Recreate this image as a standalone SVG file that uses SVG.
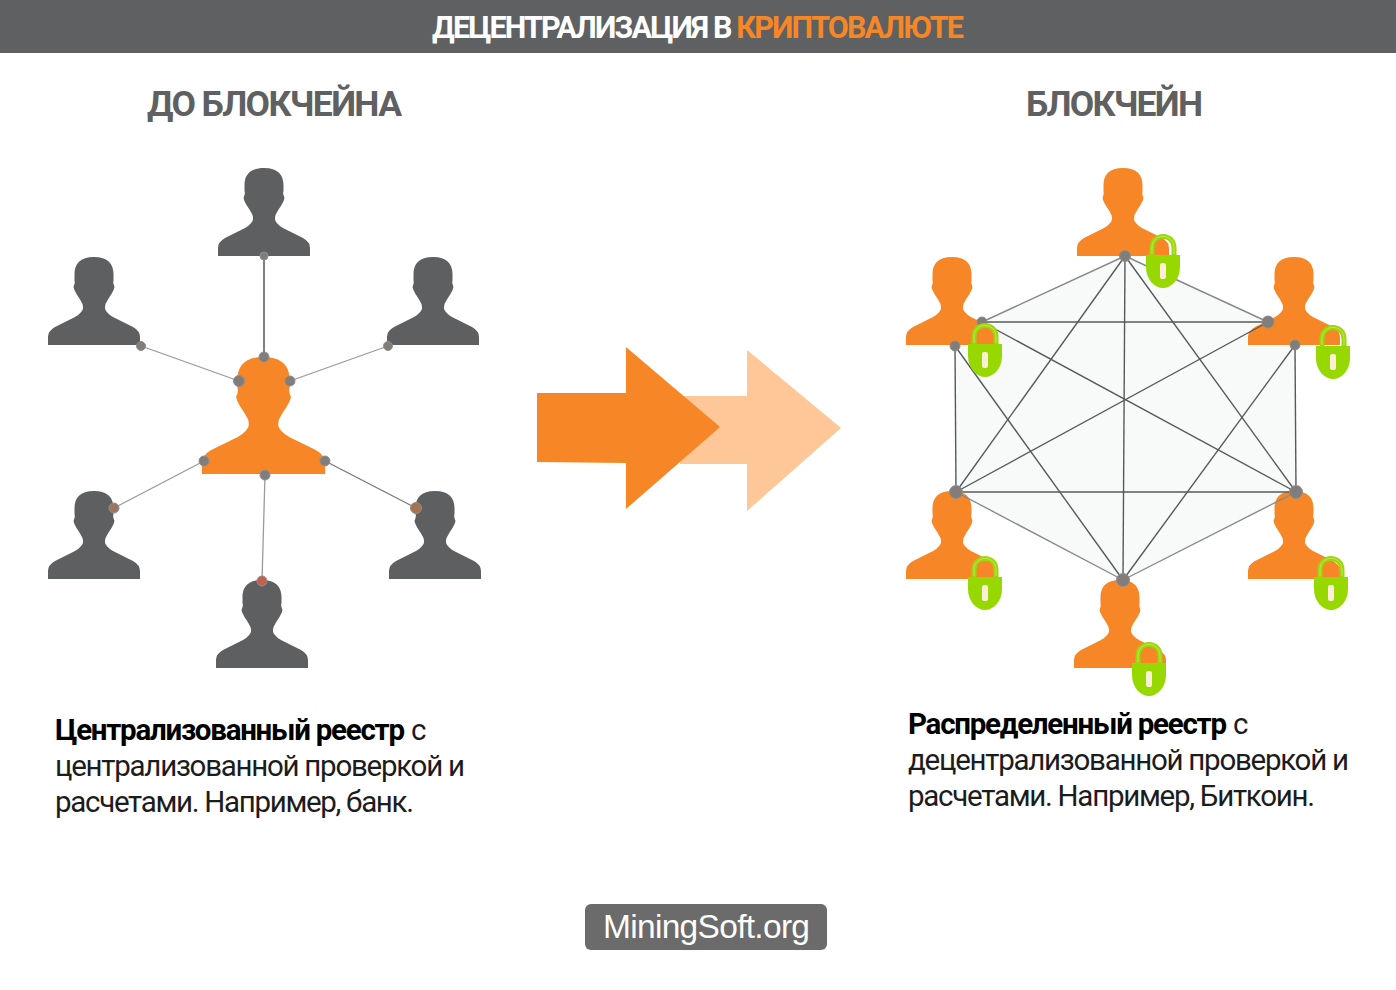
<svg xmlns="http://www.w3.org/2000/svg" width="1396" height="990" viewBox="0 0 1396 990">
<style>
text{font-family:Roboto,"Noto Sans",sans-serif}
.h{font-size:35.500px;font-weight:700;fill:#5f6062}
.t{font-size:30.500px;font-weight:700}
.b{font-size:29.500px;fill:#1c1c1c}
.b .s{font-weight:700;fill:#000}
.gray{fill:#5d5f61}
.or{fill:#f68626}
.c1{stroke:#999a9a;stroke-width:1.300;fill:none}
.c2{stroke:#58595b;stroke-width:1.400;fill:none}
.n{fill:#807d7a;stroke:#8f8f8f;stroke-width:1}
</style>
<defs>
<path id="person" d="M0 0C14 0 19.500 7 19.500 17L19.500 23Q18.500 26 20.500 30Q20 33 17.500 37Q14 42 11.500 47Q10.500 51 11.500 53Q14 58 23 62L39 70Q46 74 46 80L46 88L-46 88L-46 80Q-46 74 -39 70L-23 62Q-14 58 -11.500 53Q-10.500 51 -11.500 47Q-14 42 -17.500 37Q-20 33 -20.500 30Q-18.500 26 -19.500 23L-19.500 17C-19.500 7 -14 0 0 0Z"/>
<g id="lock">
<path d="M-11 22L-11 12C-11 -3.500 11 -3.500 11 12L11 22" fill="none" stroke="#9bd60e" stroke-width="5"/>
<path d="M-11 18L-11 12C-11 -3.500 11 -3.500 11 12L11 18" fill="none" stroke="#c4e64a" stroke-width="1"/>
<path d="M-17 19L17 19L17 31C17 44 8 52 0 52C-8 52 -17 44 -17 31Z" fill="#97d800"/>
<rect x="-3" y="27" width="6" height="16" rx="2" fill="#fbefd8"/>
</g>
</defs>
<rect id="header" x="0" y="0" width="1396" height="53" fill="#5e6062"/>
<text class="t" x="432" y="38" textLength="532" lengthAdjust="spacing" fill="#fff">ДЕЦЕНТРАЛИЗАЦИЯ В <tspan fill="#f68626">КРИПТОВАЛЮТЕ</tspan></text>
<text class="h" x="147" y="116" textLength="255" lengthAdjust="spacing">ДО БЛОКЧЕЙНА</text>
<text class="h" x="1026" y="116" textLength="177" lengthAdjust="spacing">БЛОКЧЕЙН</text>

<polygon id="network-bg" points="1125,256 1268,322 1296,345 1296,492 1123,580 956,492 956,346 982,322" fill="#f8f9f9"/>

<g id="person-left-top" class="gray"><use href="#person" x="264" y="168"/></g>
<g id="person-left-ul" class="gray"><use href="#person" x="94" y="257"/></g>
<g id="person-left-ur" class="gray"><use href="#person" x="433" y="257"/></g>
<g id="person-left-ll" class="gray"><use href="#person" x="94" y="491"/></g>
<g id="person-left-lr" class="gray"><use href="#person" x="435" y="491"/></g>
<g id="person-left-bottom" class="gray"><use href="#person" x="262" y="580"/></g>
<g id="person-center" class="or"><use href="#person" transform="translate(263.500 357) scale(1.340 1.330)"/></g>

<g id="person-right-top" class="or"><use href="#person" x="1123" y="168"/></g>
<g id="person-right-ul" class="or"><use href="#person" x="952" y="257"/></g>
<g id="person-right-ur" class="or"><use href="#person" x="1294" y="257"/></g>
<g id="person-right-ll" class="or"><use href="#person" x="952" y="491"/></g>
<g id="person-right-lr" class="or"><use href="#person" x="1294" y="491"/></g>
<g id="person-right-bottom" class="or"><use href="#person" x="1120" y="580"/></g>

<g id="connectors">
<g class="c1">
<line x1="264" y1="256" x2="264" y2="357" style="stroke:#3a3b3c"/>
<line x1="141" y1="346" x2="239" y2="381"/>
<line x1="388" y1="346" x2="290" y2="381"/>
<line x1="204" y1="461" x2="114" y2="508"/>
<line x1="325" y1="461" x2="416" y2="508" style="stroke:#77787a"/>
<line x1="265" y1="475" x2="262" y2="581"/>
</g>
<g class="c2">
<line x1="1125" y1="256" x2="982" y2="322" style="stroke:#88898a"/>
<line x1="1125" y1="256" x2="1268" y2="322" style="stroke:#88898a"/>
<line x1="1125" y1="256" x2="1123" y2="580"/>
<line x1="1125" y1="256" x2="956" y2="492"/>
<line x1="1125" y1="256" x2="1296" y2="492"/>
<line x1="982" y1="322" x2="1268" y2="322"/>
<line x1="982" y1="322" x2="1296" y2="492"/>
<line x1="1268" y1="322" x2="956" y2="492"/>
<line x1="955" y1="346" x2="956" y2="492"/>
<line x1="955" y1="346" x2="1123" y2="580"/>
<line x1="1295" y1="345" x2="1296" y2="492"/>
<line x1="1295" y1="345" x2="1123" y2="580"/>
<line x1="956" y1="492" x2="1296" y2="492"/>
<line x1="956" y1="492" x2="1123" y2="580" style="stroke:#88898a"/>
<line x1="1296" y1="492" x2="1123" y2="580" style="stroke:#88898a"/>
</g>
</g>

<g id="dots-left" class="n">
<circle cx="264" cy="256" r="4"/><circle cx="264" cy="357" r="5"/><circle cx="239" cy="381" r="5.500"/><circle cx="290" cy="381" r="5"/>
<circle cx="141" cy="346" r="4.500"/><circle cx="388" cy="346" r="4.500"/>
<circle cx="204" cy="461" r="5"/><circle cx="325" cy="461" r="5"/><circle cx="265" cy="475" r="5"/>
<circle cx="114" cy="508" r="5" fill="#9c7660"/><circle cx="416" cy="508" r="5.500" fill="#a5734f"/><circle cx="262" cy="581" r="5" fill="#c4604a"/>
</g>
<g id="dots-right" class="n">
<circle cx="1125" cy="256" r="5.500"/><circle cx="982" cy="322" r="5"/><circle cx="1268" cy="322" r="6"/><circle cx="955" cy="346" r="5"/><circle cx="1295" cy="345" r="5"/>
<circle cx="956" cy="492" r="6.500"/><circle cx="1296" cy="492" r="6.500"/><circle cx="1123" cy="580" r="6.500"/>
</g>

<g id="lock-1"><use href="#lock" x="1163" y="236"/></g>
<g id="lock-2"><use href="#lock" x="985" y="325"/></g>
<g id="lock-3"><use href="#lock" x="1333" y="327"/></g>
<g id="lock-4"><use href="#lock" x="985" y="558"/></g>
<g id="lock-5"><use href="#lock" x="1331" y="558"/></g>
<g id="lock-6"><use href="#lock" x="1149" y="644"/></g>

<polygon id="arrow-light" points="680,396 747,396 747,350 841,428 747,511 747,464 680,464" fill="#fdc797"/>
<polygon id="arrow-solid" points="537,393 626,393 626,347 720,427 626,509 626,463 537,462" fill="#f68626"/>

<text class="b" x="55" y="740"><tspan class="s" textLength="350" lengthAdjust="spacing">Централизованный реестр</tspan> с</text>
<text class="b" x="55" y="776" textLength="410" lengthAdjust="spacing">централизованной проверкой и</text>
<text class="b" x="55" y="812" textLength="359" lengthAdjust="spacing">расчетами. Например, банк.</text>
<text class="b" x="908" y="734"><tspan class="s" textLength="319" lengthAdjust="spacing">Распределенный реестр</tspan> с</text>
<text class="b" x="908" y="770" textLength="441" lengthAdjust="spacing">децентрализованной проверкой и</text>
<text class="b" x="908" y="806" textLength="407" lengthAdjust="spacing">расчетами. Например, Биткоин.</text>

<g id="badge">
<rect x="585" y="904" width="242" height="46" rx="6" fill="#6b6b6b"/>
<text x="603" y="938" font-size="33.500" textLength="207" lengthAdjust="spacing" fill="#fff" style="font-family:'Liberation Sans',Arial,sans-serif">MiningSoft.org</text>
</g>
</svg>
